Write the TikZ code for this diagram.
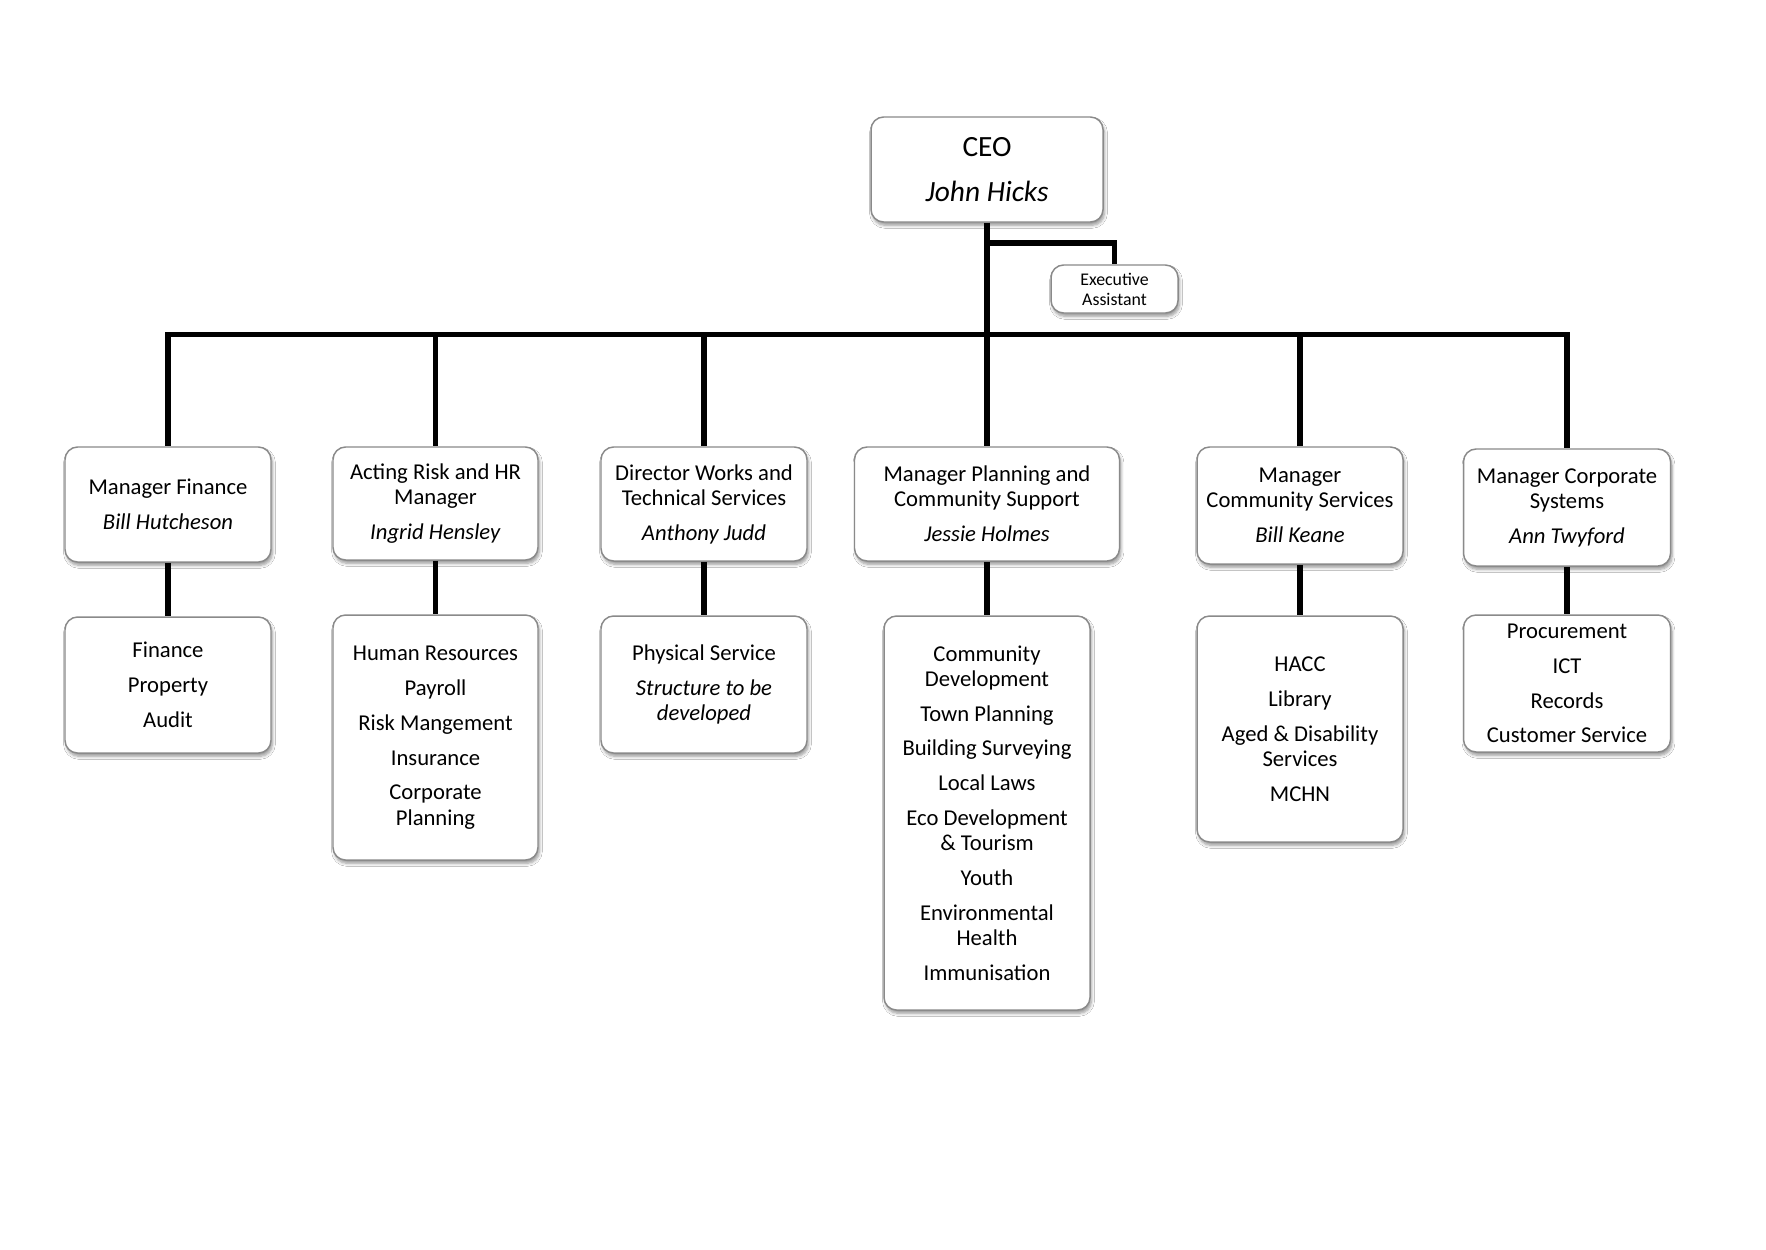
\documentclass[tikz,border=0pt]{standalone}
\usepackage{fontspec}
\setmainfont{Carlito}
\usetikzlibrary{shadows.blur}
\newlength\PX \setlength\PX{0.4768pt}
\definecolor{boxline}{HTML}{8A8A8A}
\tikzset{
  orgbox/.style={draw=boxline, line width=0.7pt, rounded corners=6pt, fill=white,
    align=center, inner sep=0pt, font=\fontsize{10.8}{12}\selectfont,
    blur shadow={shadow xshift=0.7pt, shadow yshift=-1.6pt, shadow blur steps=6,
      shadow blur radius=1.4pt, shadow opacity=40}},
  conn/.style={line width=2.7pt, black},
}
\begin{document}
\begin{tikzpicture}[x=0.4768pt, y=-0.4768pt]
\useasboundingbox[fill=white] (0,0) rectangle (1766,1249);

% CEO and assistant
\node[orgbox, minimum width=232\PX, minimum height=105\PX, font=\fontsize{14}{17}\selectfont] (ceo) at (987,169.5)
  {CEO\\[4.5pt]\textit{John Hicks}};
\node[orgbox, minimum width=127\PX, minimum height=48\PX, font=\fontsize{8.5}{9.5}\selectfont] (ea) at (1114.5,289)
  {Executive\\Assistant};

% managers
\node[orgbox, minimum width=206\PX, minimum height=115\PX] (m1) at (168,504.5)
  {Manager Finance\\[4.6pt]\textit{Bill Hutcheson}};
\node[orgbox, minimum width=205\PX, minimum height=113\PX] (m2) at (435.5,503.5)
  {Acting Risk and HR\\Manager\\[4.6pt]\textit{Ingrid Hensley}};
\node[orgbox, minimum width=206\PX, minimum height=114\PX] (m3) at (704,504)
  {Director Works and\\Technical Services\\[4.6pt]\textit{Anthony Judd}};
\node[orgbox, minimum width=265\PX, minimum height=114\PX] (m4) at (987,504)
  {Manager Planning and\\Community Support\\[4.6pt]\textit{Jessie Holmes}};
\node[orgbox, minimum width=206\PX, minimum height=117\PX] (m5) at (1300,505.5)
  {Manager\\Community Services\\[4.6pt]\textit{Bill Keane}};
\node[orgbox, minimum width=207\PX, minimum height=117\PX] (m6) at (1567,507.5)
  {Manager Corporate\\Systems\\[4.6pt]\textit{Ann Twyford}};

% departments
\node[orgbox, minimum width=206\PX, minimum height=136\PX] (d1) at (168,685)
  {Finance\\[4.6pt]Property\\[4.6pt]Audit};
\node[orgbox, minimum width=205\PX, minimum height=245\PX] (d2) at (435.5,737.5)
  {Human Resources\\[4.6pt]Payroll\\[4.6pt]Risk Mangement\\[4.6pt]Insurance\\[4.6pt]Corporate\\Planning};
\node[orgbox, minimum width=206\PX, minimum height=137\PX] (d3) at (704,684.5)
  {Physical Service\\[4.6pt]\textit{Structure to be}\\\textit{developed}};
\node[orgbox, minimum width=206\PX, minimum height=394\PX] (d4) at (987,813)
  {Community\\Development\\[4.6pt]Town Planning\\[4.6pt]Building Surveying\\[4.6pt]Local Laws\\[4.6pt]Eco Development\\\& Tourism\\[4.6pt]Youth\\[4.6pt]Environmental\\Health\\[4.6pt]Immunisation};
\node[orgbox, minimum width=206\PX, minimum height=226\PX] (d5) at (1300,729)
  {HACC\\[4.6pt]Library\\[4.6pt]Aged \& Disability\\Services\\[4.6pt]MCHN};
\node[orgbox, minimum width=207\PX, minimum height=137\PX] (d6) at (1567,683.5)
  {Procurement\\[4.6pt]ICT\\[4.6pt]Records\\[4.6pt]Customer Service};

% connectors
\coordinate (bar) at (987,334.5);
\coordinate (eaj) at (987,243);
\draw[conn] (ceo.south) -- (m4.north);
\draw[conn] (eaj) -| (ea.north);
\draw[conn] (bar) -| (m1.north);
\draw[conn] (bar) -| (m2.north);
\draw[conn] (bar) -| (m3.north);
\draw[conn] (bar) -| (m5.north);
\draw[conn] (bar) -| (m6.north);
\foreach \i in {1,...,6} { \draw[conn] (m\i.south) -- (d\i.north); }
\end{tikzpicture}
\end{document}
